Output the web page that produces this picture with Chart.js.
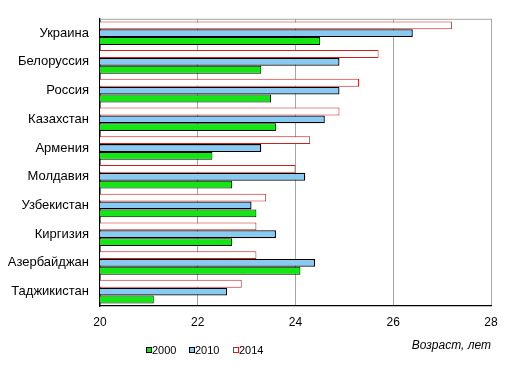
<!DOCTYPE html>
<html>
<head>
<meta charset="utf-8">
<script src="https://cdn.jsdelivr.net/npm/chart.js@4.4.1/dist/chart.umd.min.js"></script>
<style>
  html, body { margin: 0; padding: 0; background: #fff; }
  #wrap { width: 515px; height: 373px; position: relative; }
</style>
</head>
<body>
<div id="wrap"><canvas id="ageChart"></canvas></div>
<script>
// Медианный возраст по странам
const countries = ['Украина', 'Белоруссия', 'Россия', 'Казахстан', 'Армения', 'Молдавия', 'Узбекистан', 'Киргизия', 'Азербайджан', 'Таджикистан'];
const years = ['2000', '2010', '2014'];
const age2000 = [24.5, 23.3, 23.5, 23.6, 22.3, 22.7, 23.2, 22.7, 24.1, 21.1];
const age2010 = [26.4, 24.9, 24.9, 24.6, 23.3, 24.2, 23.1, 23.6, 24.4, 22.6];
const age2014 = [27.2, 25.7, 25.3, 24.9, 24.3, 24.0, 23.4, 23.2, 23.2, 22.9];
const xTicks = [20, 22, 24, 26, 28];

const FONT = 'Arial, "Liberation Sans", sans-serif';

// top edge of the plot box + hand-drawn legend at the bottom
const frame_plugin = {
    id: 'frame',
    afterDraw(chart) {
        const { ctx, chartArea } = chart;
        ctx.save();
        ctx.strokeStyle = '#a6a6a6';
        ctx.lineWidth = 1;
        ctx.beginPath();
        ctx.moveTo(chartArea.left, chartArea.top + 0.5);
        ctx.lineTo(chartArea.right + 0.5, chartArea.top + 0.5);
        ctx.stroke();

        // legend: 2000, 2010, 2014
        const items = [
            { text: years[0], ds: chart.data.datasets[2], x: 146 },
            { text: years[1], ds: chart.data.datasets[1], x: 189 },
            { text: years[2], ds: chart.data.datasets[0], x: 233 }
        ];
        ctx.font = '11px ' + FONT;
        ctx.textBaseline = 'middle';
        items.forEach(it => {
            ctx.fillStyle = it.ds.backgroundColor;
            ctx.fillRect(it.x + 0.5, 347.5, 5, 5);
            ctx.strokeStyle = it.ds.borderColor;
            ctx.strokeRect(it.x + 0.5, 347.5, 5, 5);
            ctx.fillStyle = '#000';
            ctx.fillText(it.text, it.x + 6, 350.5);
        });
        ctx.restore();
    }
};

new Chart(document.getElementById('ageChart'), {
    type: 'bar',
    data: {
        labels: countries,
        datasets: [
            { label: years[2], data: age2014, backgroundColor: '#ffffff', borderColor: '#cc1f1f', borderWidth: 1 },
            { label: years[1], data: age2010, backgroundColor: '#87cbf5', borderColor: '#000000', borderWidth: 1.3 },
            { label: years[0], data: age2000, backgroundColor: '#14e614', borderColor: '#000000', borderWidth: 1 }
        ]
    },
    options: {
        indexAxis: 'y',
        responsive: true,
        maintainAspectRatio: false,
        animation: false,
        layout: { padding: { top: 15, right: 24, left: 0, bottom: 0 } },
        datasets: { bar: { categoryPercentage: 0.82, barPercentage: 1.0, borderSkipped: false } },
        scales: {
            x: {
                min: 20, max: 28,
                afterBuildTicks: axis => { axis.ticks = xTicks.map(v => ({ value: v })); },
                afterFit: axis => { axis.height = 67; },
                grid: { color: '#a6a6a6', drawTicks: false },
                border: { color: '#000', width: 1.3 },
                ticks: { color: '#000', padding: 9, font: { family: FONT, size: 12 } },
                title: {
                    display: true, text: 'Возраст, лет', align: 'end', color: '#000',
                    font: { family: FONT, size: 12, style: 'italic' },
                    padding: { top: 0, bottom: 20 }
                }
            },
            y: {
                afterFit: axis => { axis.width = 100; },
                grid: { display: false, drawTicks: false },
                border: { color: '#000', width: 1.3 },
                ticks: { color: '#000', padding: 11, font: { family: FONT, size: 13 } }
            }
        },
        plugins: {
            legend: { display: false },
            tooltip: { enabled: false }
        }
    },
    plugins: [frame_plugin]
});
</script>
</body>
</html>
